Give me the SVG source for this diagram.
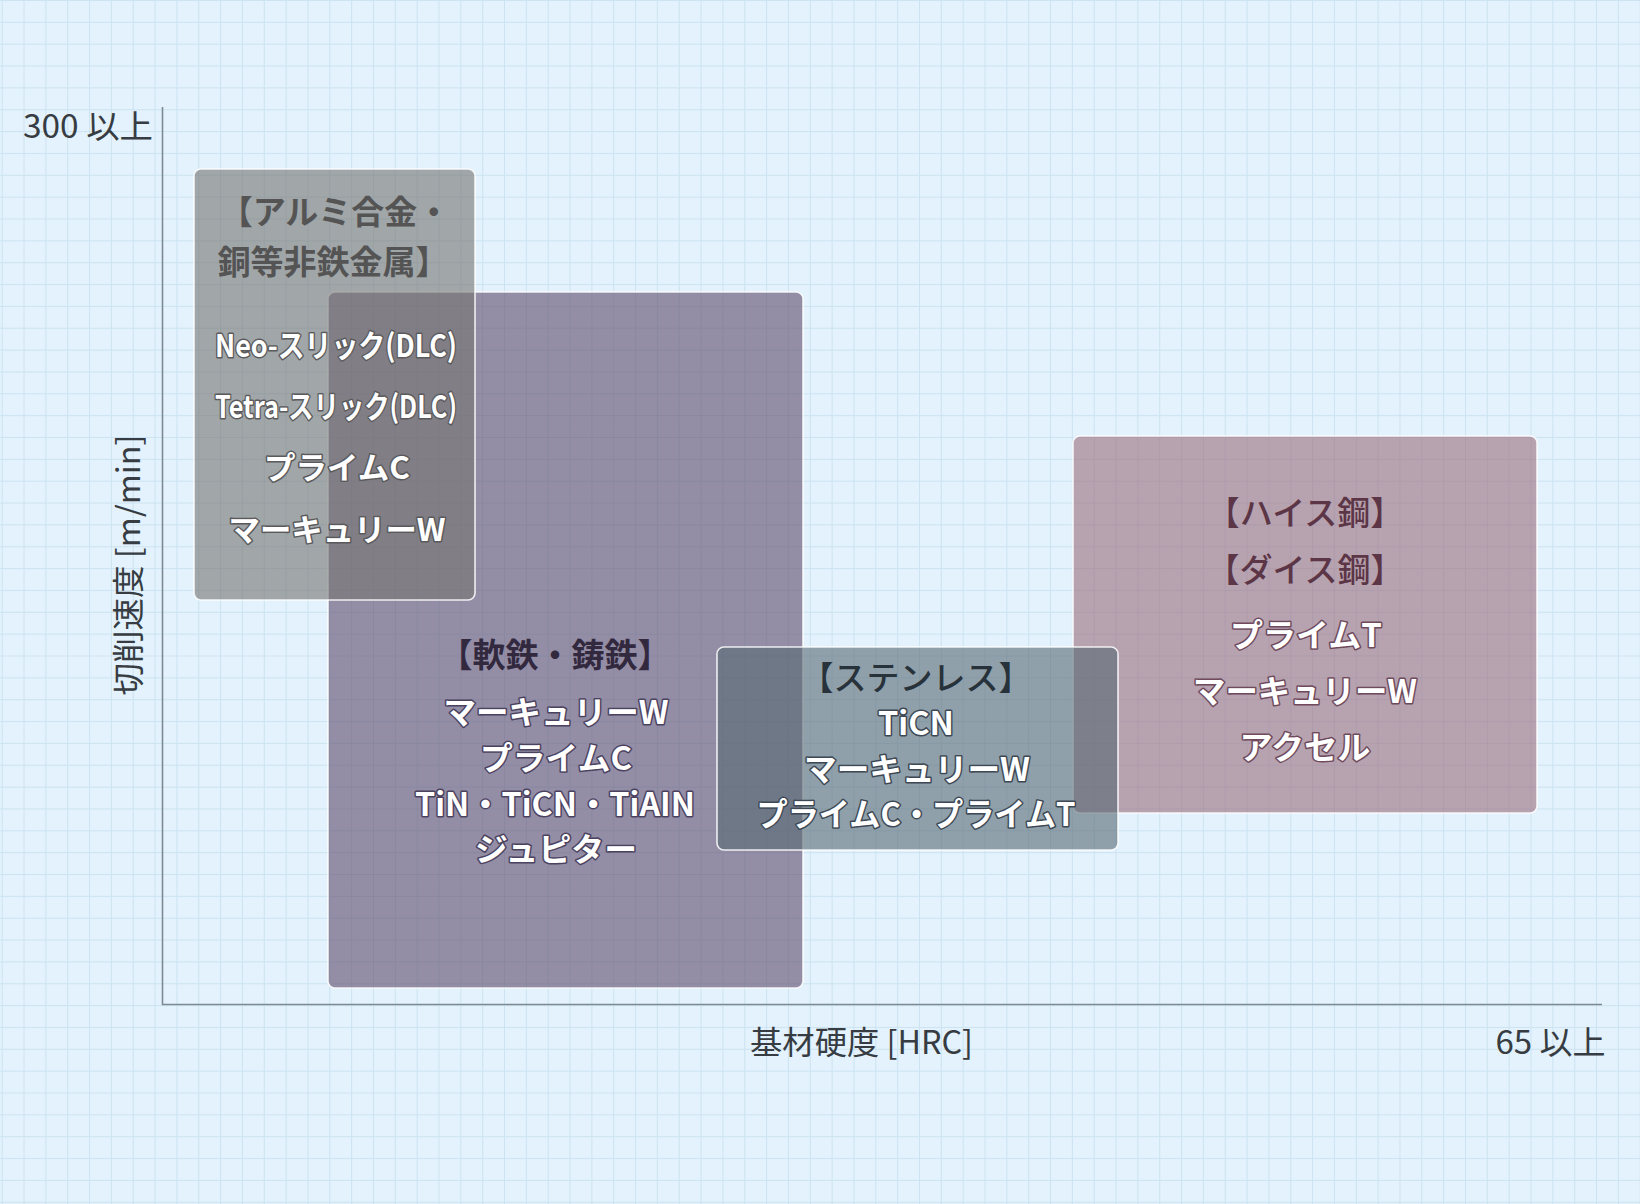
<svg xmlns="http://www.w3.org/2000/svg" width="1640" height="1204" viewBox="0 0 1640 1204">
  <defs>
    <pattern id="grid" patternUnits="userSpaceOnUse" x="1.7" y="0" width="21.84" height="21.85">
      <path d="M0.5 0V21.85M0 0.5H21.84" fill="none" stroke="#cce3f1" stroke-width="1"/>
    </pattern>
    <style>
      text{font-family:"Noto Sans CJK JP","Noto Sans",sans-serif;text-anchor:middle;dominant-baseline:central}
      .axis{font-size:32px;fill:#363c42}
      .box{stroke:#ffffff;stroke-opacity:0.85;stroke-width:1.6}
      .t1{font-size:33px;font-weight:700;fill:#545454}
      .w{font-size:31px;font-weight:700;fill:#ffffff;paint-order:stroke;stroke-width:3;stroke-linejoin:round}
      .w1{stroke:#5a5a5c}
      .w2{stroke:#4b4260}
      .w3{stroke:#3d4854}
      .w4{stroke:#6e4a5c}
    </style>
  </defs>
  <rect x="0" y="0" width="1640" height="1204" fill="#e3f2fc"/>
  <rect x="0" y="0" width="1640" height="1204" fill="url(#grid)"/>

  <g id="axes">
    <path d="M162.5 107V1004.5H1602" fill="none" stroke="#7d8a94" stroke-width="1.6"/>
    <text class="axis" x="88" y="124" textLength="130" lengthAdjust="spacingAndGlyphs">300 以上</text>
    <text class="axis" x="861.5" y="1040" textLength="223" lengthAdjust="spacingAndGlyphs">基材硬度 [HRC]</text>
    <text class="axis" x="1550.5" y="1040" textLength="110" lengthAdjust="spacingAndGlyphs">65 以上</text>
    <text class="axis" transform="translate(126 565) rotate(-90)" x="0" y="0" textLength="261" lengthAdjust="spacingAndGlyphs">切削速度 [m/min]</text>
  </g>

  <g id="connectors"></g>

  <g id="node-soft-iron">
    <rect class="box" x="328" y="292" width="475" height="696" rx="7" fill="#5d4b6d" fill-opacity="0.6"/>
    <text x="555" y="653" style="font-size:33px;font-weight:700;fill:#33293f">【軟鉄・鋳鉄】</text>
    <text class="w w2" x="556" y="710" style="font-size:32px" textLength="225" lengthAdjust="spacingAndGlyphs">マーキュリーW</text>
    <text class="w w2" x="556" y="756" style="font-size:32px" textLength="152" lengthAdjust="spacingAndGlyphs">プライムC</text>
    <text class="w w2" x="555" y="802" style="font-size:32px" textLength="280" lengthAdjust="spacingAndGlyphs">TiN・TiCN・TiAIN</text>
    <text class="w w2" x="556" y="847" style="font-size:32px" textLength="162" lengthAdjust="spacingAndGlyphs">ジュピター</text>
  </g>

  <g id="node-aluminium">
    <rect class="box" x="194" y="169" width="281" height="431" rx="7" fill="#747370" fill-opacity="0.6"/>
    <text class="t1" x="335" y="210">【アルミ合金・</text>
    <text class="t1" x="333" y="260">銅等非鉄金属】</text>
    <text class="w w1" x="336" y="343" textLength="242" lengthAdjust="spacingAndGlyphs">Neo-スリック(DLC)</text>
    <text class="w w1" x="336" y="404" textLength="242" lengthAdjust="spacingAndGlyphs">Tetra-スリック(DLC)</text>
    <text class="w w1" x="337" y="465" textLength="146" lengthAdjust="spacingAndGlyphs">プライムC</text>
    <text class="w w1" x="337" y="527" textLength="217" lengthAdjust="spacingAndGlyphs">マーキュリーW</text>
  </g>

  <g id="node-high-speed-steel">
    <rect class="box" x="1073" y="436" width="464" height="377" rx="7" fill="#996d7d" fill-opacity="0.6"/>
    <text x="1305" y="511" style="font-size:33px;font-weight:500;fill:#5c3646">【ハイス鋼】</text>
    <text x="1305" y="568" style="font-size:33px;font-weight:500;fill:#5c3646">【ダイス鋼】</text>
    <text class="w w4" x="1306" y="633" style="font-size:32px" textLength="152" lengthAdjust="spacingAndGlyphs">プライムT</text>
    <text class="w w4" x="1305" y="689" style="font-size:32px" textLength="224" lengthAdjust="spacingAndGlyphs">マーキュリーW</text>
    <text class="w w4" x="1305" y="745" style="font-size:32px" textLength="131" lengthAdjust="spacingAndGlyphs">アクセル</text>
  </g>

  <g id="node-stainless">
    <rect class="box" x="717" y="647" width="401" height="203" rx="7" fill="#566973" fill-opacity="0.6"/>
    <text x="916" y="676" style="font-size:33px;font-weight:500;fill:#28323b">【ステンレス】</text>
    <text class="w w3" x="916" y="721" style="font-size:32px" textLength="76" lengthAdjust="spacingAndGlyphs">TiCN</text>
    <text class="w w3" x="917" y="767" style="font-size:32px" textLength="226" lengthAdjust="spacingAndGlyphs">マーキュリーW</text>
    <text class="w w3" x="916" y="812" style="font-size:32px" textLength="319" lengthAdjust="spacingAndGlyphs">プライムC・プライムT</text>
  </g>
</svg>
